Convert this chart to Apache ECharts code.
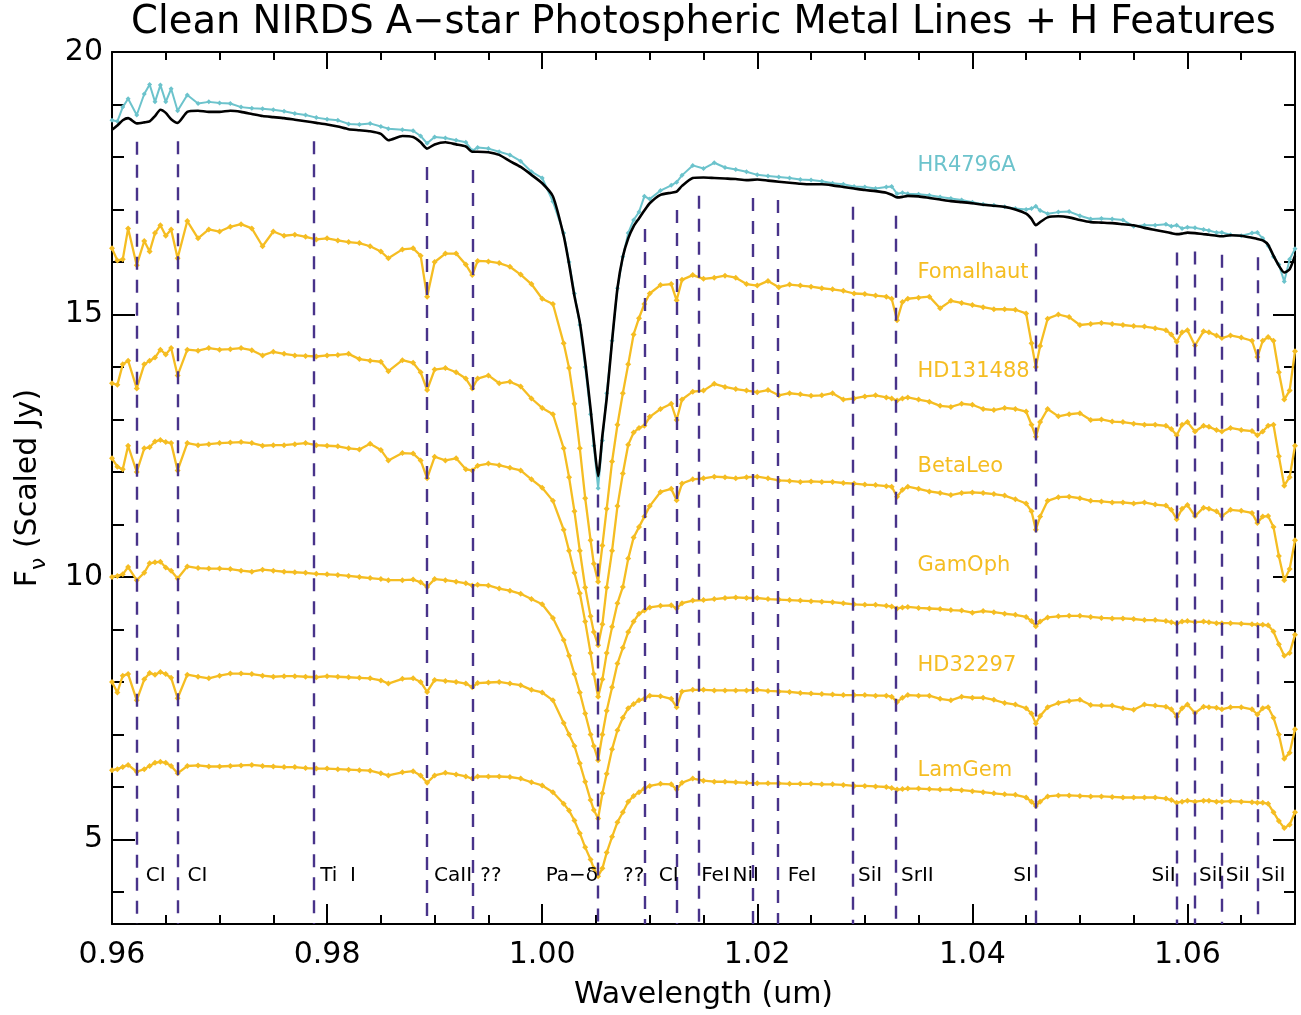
<!DOCTYPE html>
<html>
<head>
<meta charset="utf-8">
<title>Clean NIRDS A-star Photospheric Metal Lines + H Features</title>
<script src="https://cdn.jsdelivr.net/npm/echarts@6/dist/echarts.min.js"></script>
<style>
  html, body { margin: 0; padding: 0; background: #fff; }
  #chart { width: 1301px; height: 1015px; }
</style>
</head>
<body>
<div id="chart"></div>
<script>
// wavelength grid (um), finer around the lines and Pa-delta
const wave = [
  0.960, 0.9605, 0.961, 0.9615, 0.9623, 0.963, 0.9635, 0.964, 0.9645, 0.965, 0.9655, 0.9661,
  0.967, 0.968, 0.969, 0.970, 0.971, 0.972, 0.973, 0.974, 0.975, 0.976, 0.977, 0.978, 0.979, 0.980, 0.981, 0.982, 0.983, 0.984, 0.985,
  0.9857, 0.987, 0.988, 0.9887, 0.9893, 0.990, 0.991, 0.992, 0.9929, 0.9935, 0.994, 0.995, 0.996, 0.997, 0.998, 0.999,
  1.000, 1.001, 1.002, 1.0025, 1.003, 1.0035, 1.004, 1.0045, 1.0048, 1.0052, 1.0056, 1.006, 1.0065, 1.007, 1.0075, 1.008, 1.0085, 1.009, 1.0095, 1.010, 1.011,
  1.012, 1.0125, 1.013,
  1.014, 1.015, 1.016, 1.017, 1.018, 1.019, 1.020, 1.021, 1.022, 1.023, 1.024, 1.025, 1.026, 1.027, 1.028, 1.029, 1.030, 1.031, 1.032,
  1.0325, 1.033, 1.0335,
  1.034, 1.035, 1.036, 1.037, 1.038, 1.039, 1.040, 1.041, 1.042, 1.043, 1.044, 1.045,
  1.0455, 1.0459, 1.0463,
  1.047, 1.048, 1.049, 1.050, 1.051, 1.052, 1.053, 1.054, 1.055, 1.056, 1.057, 1.058,
  1.0585, 1.059, 1.0595, 1.060, 1.0607, 1.0615, 1.062, 1.0627, 1.0632, 1.064, 1.065, 1.066, 1.0665, 1.067, 1.0675, 1.068, 1.0685, 1.069, 1.0695, 1.070
];

const hr4796a = [
  18.70, 18.68, 18.95, 19.11, 18.80, 19.20, 19.38, 19.05, 19.37, 19.05, 19.30, 18.88,
  19.18, 19.02, 19.05, 19.03, 19.02, 18.95, 18.93, 18.92, 18.90, 18.87, 18.83, 18.80, 18.75, 18.72, 18.70, 18.63, 18.62, 18.64, 18.58,
  18.54, 18.52, 18.50, 18.40, 18.26, 18.38, 18.36, 18.32, 18.28, 18.12, 18.18, 18.16, 18.10, 18.04, 17.92, 17.72,
  17.60, 17.15, 16.55, 16.00, 15.40, 14.80, 14.00, 13.10, 12.50, 11.69, 12.60, 13.50, 14.50, 15.50, 16.10, 16.55, 16.80, 16.95, 17.25, 17.20, 17.36,
  17.46, 17.52, 17.65,
  17.84, 17.78, 17.89, 17.80, 17.76, 17.72, 17.66, 17.64, 17.62, 17.60, 17.57, 17.56, 17.54, 17.50, 17.48, 17.44, 17.43, 17.40, 17.43,
  17.44, 17.30, 17.32,
  17.30, 17.29, 17.27, 17.24, 17.21, 17.18, 17.14, 17.10, 17.08, 17.05, 17.02, 17.00,
  17.02, 17.06, 16.98,
  16.92, 16.95, 16.96, 16.88, 16.82, 16.83, 16.82, 16.80, 16.68, 16.70, 16.70, 16.72,
  16.68, 16.70, 16.64, 16.66, 16.65, 16.62, 16.60, 16.56, 16.56, 16.52, 16.50, 16.55, 16.56, 16.45, 16.31, 16.10, 15.95, 15.63, 16.05, 16.25
];

const model = [
  18.52, 18.60, 18.70, 18.74, 18.64, 18.66, 18.68, 18.78, 18.90, 18.84, 18.72, 18.65,
  18.86, 18.88, 18.86, 18.86, 18.88, 18.86, 18.82, 18.78, 18.76, 18.74, 18.71, 18.68, 18.65, 18.62, 18.58, 18.53, 18.51, 18.49, 18.44,
  18.32, 18.40, 18.38, 18.28, 18.16, 18.24, 18.28, 18.24, 18.20, 18.10, 18.10, 18.09, 18.04, 17.92, 17.81, 17.66,
  17.50, 17.25, 16.50, 15.96, 15.35, 14.85, 14.10, 13.20, 12.60, 11.92, 12.70, 13.40, 14.50, 15.50, 16.10, 16.45, 16.68, 16.83, 16.98, 17.12, 17.28,
  17.32, 17.34, 17.45,
  17.60, 17.61, 17.60, 17.59, 17.58, 17.56, 17.57, 17.55, 17.53, 17.51, 17.49, 17.48, 17.48, 17.46, 17.43, 17.40, 17.37, 17.35, 17.32,
  17.28, 17.23, 17.24,
  17.26, 17.25, 17.22, 17.19, 17.16, 17.14, 17.12, 17.09, 17.07, 17.05, 17.00, 16.92,
  16.82, 16.70, 16.76,
  16.85, 16.87, 16.85, 16.80, 16.76, 16.75, 16.74, 16.72, 16.70, 16.65, 16.61, 16.57,
  16.55, 16.53, 16.54, 16.56, 16.55, 16.53, 16.52, 16.50, 16.49, 16.51, 16.50, 16.46, 16.44, 16.41, 16.33, 16.12, 15.93, 15.80, 15.86, 16.12
];

const fomalhaut = [
  16.26, 16.03, 16.05, 16.64, 15.94, 16.40, 16.20, 16.55, 16.70, 16.50, 16.62, 16.07,
  16.78, 16.45, 16.62, 16.58, 16.67, 16.72, 16.64, 16.30, 16.58, 16.50, 16.52, 16.48, 16.43, 16.45, 16.41, 16.38, 16.36, 16.30, 16.20,
  16.07, 16.24, 16.26, 16.12, 15.34, 16.00, 16.16, 16.16, 15.95, 15.75, 16.02, 16.01, 15.98, 15.91, 15.76, 15.58,
  15.30, 15.20, 14.45, 13.98, 13.30, 12.45, 11.50, 10.70, 10.25, 9.91, 10.60, 11.30, 12.20, 12.90, 13.50, 14.05, 14.62, 14.93, 15.20, 15.40, 15.56,
  15.58, 15.27, 15.66,
  15.75, 15.68, 15.70, 15.74, 15.70, 15.58, 15.55, 15.64, 15.52, 15.57, 15.55, 15.53, 15.50, 15.48, 15.45, 15.40, 15.39, 15.36, 15.34,
  15.30, 14.89, 15.24,
  15.30, 15.32, 15.34, 15.12, 15.26, 15.22, 15.18, 15.14, 15.10, 15.10, 15.09, 15.02,
  14.45, 14.00, 14.40,
  14.92, 15.00, 14.95, 14.80, 14.82, 14.84, 14.82, 14.80, 14.78, 14.77, 14.74, 14.70,
  14.62, 14.48, 14.66, 14.70, 14.41, 14.68, 14.66, 14.60, 14.55, 14.60, 14.56, 14.50, 14.19, 14.50, 14.57, 14.50, 13.90, 13.38, 13.55, 14.30
];

const hd131488 = [
  13.69, 13.66, 14.05, 14.12, 13.59, 14.05, 14.12, 14.18, 14.33, 14.24, 14.36, 13.84,
  14.33, 14.31, 14.36, 14.33, 14.34, 14.36, 14.32, 14.22, 14.29, 14.25, 14.22, 14.21, 14.20, 14.22, 14.23, 14.25, 14.15, 14.12, 14.10,
  13.92, 14.13, 14.08, 13.90, 13.56, 13.95, 13.98, 13.90, 13.78, 13.59, 13.78, 13.84, 13.69, 13.72, 13.63, 13.40,
  13.22, 13.10, 12.45, 11.90, 11.25, 10.50, 9.80, 9.25, 8.95, 8.70, 9.10, 9.80, 10.50, 11.35, 11.97, 12.52, 12.75, 12.84, 12.88, 13.05, 13.20,
  13.30, 12.99, 13.38,
  13.53, 13.55, 13.68, 13.62, 13.58, 13.55, 13.52, 13.56, 13.46, 13.50, 13.48, 13.45, 13.46, 13.50, 13.38, 13.40, 13.44, 13.46, 13.42,
  13.40, 13.36, 13.40,
  13.42, 13.38, 13.34, 13.26, 13.24, 13.30, 13.28, 13.20, 13.18, 13.22, 13.20, 13.15,
  12.90, 12.67, 12.95,
  13.20, 13.06, 13.10, 13.12, 12.99, 13.00, 12.96, 12.95, 12.92, 12.90, 12.90, 12.88,
  12.82, 12.70, 12.90, 12.95, 12.77, 12.88, 12.86, 12.80, 12.77, 12.84, 12.80, 12.78, 12.70, 12.77, 12.88, 12.90, 12.30, 11.74, 11.90, 12.50
];

const betaLeo = [
  12.26, 12.10, 12.05, 12.50, 12.00, 12.45, 12.47, 12.58, 12.61, 12.57, 12.55, 12.03,
  12.55, 12.51, 12.53, 12.55, 12.56, 12.57, 12.55, 12.50, 12.51, 12.51, 12.53, 12.55, 12.51, 12.50, 12.49, 12.45, 12.43, 12.54, 12.42,
  12.22, 12.36, 12.35, 12.22, 11.88, 12.29, 12.22, 12.26, 12.05, 12.03, 12.12, 12.16, 12.13, 12.08, 12.03, 11.86,
  11.70, 11.45, 10.90, 10.50, 10.08, 9.69, 9.15, 8.55, 8.15, 7.72, 8.05, 8.55, 9.05, 9.50, 9.81, 10.35, 10.75, 10.95, 11.15, 11.35, 11.62,
  11.68, 11.46, 11.78,
  11.86, 11.88, 11.91, 11.90, 11.88, 11.90, 11.91, 11.88, 11.84, 11.83, 11.81, 11.82, 11.81, 11.81, 11.79, 11.78, 11.76, 11.75, 11.73,
  11.72, 11.53, 11.66,
  11.72, 11.68, 11.63, 11.60, 11.56, 11.60, 11.61, 11.60, 11.58, 11.55, 11.48, 11.40,
  11.25, 10.90, 11.15,
  11.45, 11.52, 11.53, 11.50, 11.45, 11.44, 11.42, 11.42, 11.40, 11.42, 11.38, 11.36,
  11.28, 11.10, 11.30, 11.37, 11.16, 11.32, 11.30, 11.25, 11.16, 11.28, 11.26, 11.22, 11.03, 11.15, 11.16, 10.95, 10.40, 9.94, 10.15, 10.70
];

const gamOph = [
  10.00, 10.02, 10.05, 10.19, 9.94, 10.08, 10.26, 10.28, 10.29, 10.18, 10.12, 9.97,
  10.20, 10.17, 10.16, 10.16, 10.15, 10.12, 10.10, 10.14, 10.12, 10.10, 10.09, 10.08, 10.06, 10.05, 10.04, 10.02, 10.00, 9.98, 9.96,
  9.94, 9.94, 9.95, 9.90, 9.81, 9.96, 9.94, 9.91, 9.88, 9.84, 9.85, 9.84, 9.78, 9.74, 9.68, 9.58,
  9.48, 9.22, 8.80, 8.50, 8.15, 7.80, 7.40, 7.00, 6.78, 6.51, 7.00, 7.45, 7.90, 8.35, 8.65, 8.95, 9.15, 9.30, 9.36, 9.42, 9.45,
  9.46, 9.40, 9.50,
  9.55, 9.56, 9.58, 9.60, 9.61, 9.60, 9.60, 9.58, 9.57, 9.56, 9.55, 9.54, 9.53, 9.52, 9.50, 9.48, 9.47, 9.47, 9.45,
  9.44, 9.40, 9.42,
  9.43, 9.41, 9.40, 9.39, 9.37, 9.36, 9.32, 9.35, 9.33, 9.30, 9.28, 9.24,
  9.16, 9.06, 9.15,
  9.23, 9.25, 9.26, 9.26, 9.24, 9.22, 9.21, 9.21, 9.20, 9.18, 9.18, 9.16,
  9.14, 9.11, 9.15, 9.16, 9.14, 9.15, 9.14, 9.12, 9.12, 9.12, 9.11, 9.10, 9.09, 9.09, 9.08, 8.96, 8.72, 8.50, 8.55, 8.90
];

const hd32297 = [
  8.00, 7.80, 8.12, 8.15, 7.65, 8.05, 8.17, 8.14, 8.19, 8.15, 8.08, 7.69,
  8.14, 8.10, 8.07, 8.12, 8.16, 8.16, 8.15, 8.12, 8.10, 8.11, 8.11, 8.10, 8.09, 8.11, 8.10, 8.09, 8.08, 8.07, 8.03,
  7.97, 8.06, 8.07, 8.00, 7.81, 8.04, 8.02, 8.00, 7.97, 7.90, 7.98, 7.99, 8.00, 7.97, 7.94, 7.85,
  7.80, 7.65, 7.22, 7.00, 6.78, 6.45, 6.10, 5.75, 5.56, 5.40, 5.88, 6.25, 6.72, 7.08, 7.32, 7.50, 7.58, 7.65, 7.68, 7.74, 7.73,
  7.68, 7.52, 7.82,
  7.85, 7.85, 7.84, 7.84, 7.84, 7.84, 7.85, 7.83, 7.82, 7.81, 7.79, 7.78, 7.77, 7.76, 7.75, 7.75, 7.75, 7.74, 7.74,
  7.72, 7.62, 7.70,
  7.75, 7.74, 7.74, 7.68, 7.65, 7.72, 7.70, 7.70, 7.66, 7.60, 7.57, 7.50,
  7.40, 7.21, 7.35,
  7.52, 7.60, 7.64, 7.66, 7.56, 7.55, 7.55, 7.50, 7.47, 7.57, 7.55, 7.53,
  7.48, 7.34, 7.50, 7.57, 7.41, 7.53, 7.52, 7.51, 7.48, 7.52, 7.52, 7.48, 7.38, 7.50, 7.52, 7.32, 7.00, 6.54, 6.65, 7.10
];

const lamGem = [
  6.32, 6.34, 6.38, 6.42, 6.29, 6.34, 6.40, 6.46, 6.48, 6.46, 6.40, 6.26,
  6.40, 6.41, 6.39, 6.39, 6.40, 6.41, 6.42, 6.40, 6.39, 6.38, 6.38, 6.36, 6.35, 6.35, 6.34, 6.33, 6.32, 6.31, 6.26,
  6.22, 6.28, 6.30, 6.22, 6.08, 6.22, 6.27, 6.24, 6.20, 6.16, 6.20, 6.20, 6.20, 6.19, 6.16, 6.09,
  6.03, 5.90, 5.68, 5.55, 5.36, 5.12, 4.85, 4.62, 4.45, 4.30, 4.45, 4.75, 5.05, 5.33, 5.52, 5.72, 5.83, 5.90, 5.97, 6.02, 6.06,
  6.05, 5.95, 6.08,
  6.16, 6.12, 6.10, 6.10, 6.09, 6.08, 6.07, 6.07, 6.07, 6.06, 6.06, 6.06, 6.05, 6.05, 6.04, 6.02, 6.02, 6.01, 6.00,
  5.98, 5.95, 5.96,
  5.97, 5.97, 5.96, 5.95, 5.95, 5.94, 5.92, 5.90, 5.88, 5.86, 5.85, 5.80,
  5.72, 5.64, 5.72,
  5.82, 5.84, 5.84, 5.83, 5.82, 5.82, 5.81, 5.80, 5.80, 5.80, 5.80, 5.78,
  5.75, 5.70, 5.72, 5.74, 5.72, 5.74, 5.74, 5.72, 5.72, 5.73, 5.72, 5.71, 5.70, 5.70, 5.68, 5.52, 5.35, 5.22, 5.28, 5.52
];

const starNames = ['HR4796A', 'Fomalhaut', 'HD131488', 'BetaLeo', 'GamOph', 'HD32297', 'LamGem'];

// identified lines (um) and their tags
const lineWaves = [0.9623, 0.9661, 0.9788, 0.9893, 0.9935, 1.0052, 1.0095, 1.0125, 1.0146, 1.0196, 1.0219, 1.0289, 1.0329, 1.0459, 1.0590, 1.0607, 1.0632, 1.0665];
const lineNames = ['CI', 'CI', 'Ti  I', 'CaII', '??', 'Pa\u2212\u03b4', '??', 'CI', 'FeI', 'NiI', 'FeI', 'SiI', 'SrII', 'SI', 'SiI', 'SiI', 'SiI', 'SiI'];

const xTicks = [0.96, 0.98, 1.00, 1.02, 1.04, 1.06];
const xMinorTicks = [0.965, 0.970, 0.975, 0.985, 0.990, 0.995, 1.005, 1.010, 1.015, 1.025, 1.030, 1.035, 1.045, 1.050, 1.055, 1.065];
const yTicks = [5, 10, 15, 20];
const yMinorTicks = [4, 6, 7, 8, 9, 11, 12, 13, 14, 16, 17, 18, 19];

// ---- layout / style ----
const FONT = 'DejaVu Sans';
const YELLOW = '#f5bd22';
const CYAN = '#6cc3cc';
const PURPLE = '#48338a';
const X_MIN = 0.96, X_MAX = 1.07, Y_MIN = 3.39, Y_MAX = 20;

// where the star names sit (data coords), and where the line tags hang
const nameX = 1.0349;
const nameY = [17.84, 15.79, 13.92, 12.11, 10.21, 8.32, 6.32];
const tagY = 4.30;
const tagAlign = ['left', 'left', 'left', 'left', 'left', 'right', 'right', 'right', 'left', 'right', 'left', 'left', 'left', 'right', 'right', 'left', 'left', 'left'];
const tagDx = [9, 10, 6, 7, 8, 0, 0, 2, 2, 6, 10, 5, 5, -4, -1, 4, 4, 4];

const chart = echarts.init(document.getElementById('chart'));

function pairs(vals) {
  return wave.map((w, i) => [w, vals[i]]);
}

function modelAt(w) {
  let best = 0;
  wave.forEach((x, i) => {
    if (Math.abs(x - w) < Math.abs(wave[best] - w)) best = i;
  });
  return model[best];
}

function xAxisPart(position, ticks, len, main) {
  return {
    type: 'value', min: X_MIN, max: X_MAX, position: position,
    axisLine: { show: main, onZero: false, lineStyle: { color: '#000', width: 2 } },
    axisTick: { show: true, inside: true, length: len, customValues: ticks, lineStyle: { color: '#000', width: 2 } },
    axisLabel: { show: false },
    splitLine: { show: false }
  };
}

function yAxisPart(position, ticks, len, main) {
  return {
    type: 'value', min: Y_MIN, max: Y_MAX, position: position,
    axisLine: { show: main, onZero: false, lineStyle: { color: '#000', width: 2 } },
    axisTick: { show: true, inside: true, length: len, customValues: ticks, lineStyle: { color: '#000', width: 2 } },
    axisLabel: { show: false },
    splitLine: { show: false }
  };
}

const xBottom = xAxisPart('bottom', xTicks, 20, true);
xBottom.axisLabel = {
  show: true, customValues: xTicks, margin: 16, color: '#000',
  fontFamily: FONT, fontSize: 30, formatter: v => v.toFixed(2)
};
xBottom.name = 'Wavelength (um)';
xBottom.nameLocation = 'middle';
xBottom.nameGap = 56;
xBottom.nameTextStyle = { fontFamily: FONT, fontSize: 30, color: '#000' };

const yLeft = yAxisPart('left', yTicks, 23, true);
yLeft.axisLabel = {
  show: true, customValues: yTicks, margin: 9, color: '#000',
  fontFamily: FONT, fontSize: 30
};
yLeft.name = '{f|F}{s|\u03bd}{f| (Scaled Jy)}';
yLeft.nameLocation = 'middle';
yLeft.nameGap = 62;
yLeft.nameTextStyle = {
  fontFamily: FONT, fontSize: 30, color: '#000',
  rich: {
    f: { fontFamily: FONT, fontSize: 30, color: '#000', verticalAlign: 'bottom', padding: [0, 0, 7, 0] },
    s: { fontFamily: FONT, fontSize: 22, color: '#000', verticalAlign: 'bottom' }
  }
};

function star(name, vals, color, size, width, z) {
  return {
    name: name, type: 'line', data: pairs(vals),
    xAxisIndex: 0, yAxisIndex: 0,
    symbol: 'diamond', symbolSize: size, showAllSymbol: true,
    itemStyle: { color: color },
    lineStyle: { color: color, width: width },
    z: z
  };
}

const option = {
  animation: false,
  backgroundColor: '#fff',
  grid: { left: 112, right: 6, top: 52, bottom: 91, outerBoundsMode: 'none' },
  xAxis: [
    xBottom,
    xAxisPart('bottom', xMinorTicks, 9, false),
    xAxisPart('top', xTicks, 17, true),
    xAxisPart('top', xMinorTicks, 8, false)
  ],
  yAxis: [
    yLeft,
    yAxisPart('left', yMinorTicks, 12, false),
    yAxisPart('right', yTicks, 22, true),
    yAxisPart('right', yMinorTicks, 11, false)
  ],
  series: [
    star('HR4796A', hr4796a, CYAN, 5, 2, 2),
    {
      name: 'model', type: 'line', data: pairs(model),
      xAxisIndex: 0, yAxisIndex: 0, symbol: 'none', smooth: 0.2,
      lineStyle: { color: '#000', width: 2.6 },
      z: 3,
      markLine: {
        silent: true, symbol: ['none', 'none'],
        label: { show: false },
        lineStyle: { color: PURPLE, width: 2.4, type: [13, 10] },
        data: lineWaves.map(w => [{ coord: [w, modelAt(w) - 0.35] }, { coord: [w, Y_MIN] }]),
        z: 10
      }
    },
    star('Fomalhaut', fomalhaut, YELLOW, 6, 2.3, 4),
    star('HD131488', hd131488, YELLOW, 6, 2.3, 4),
    star('BetaLeo', betaLeo, YELLOW, 6, 2.3, 4),
    star('GamOph', gamOph, YELLOW, 6, 2.3, 4),
    star('HD32297', hd32297, YELLOW, 6, 2.3, 4),
    star('LamGem', lamGem, YELLOW, 6, 2.3, 4)
  ]
};

chart.setOption(option);

// text placed in data coordinates through the chart's own scales
const texts = [];
texts.push({
  type: 'text', x: 703.5, y: 23, z: 20,
  style: {
    text: 'Clean NIRDS A\u2212star Photospheric Metal Lines + H Features',
    fill: '#000', fontFamily: FONT, fontSize: 38.5,
    align: 'center', verticalAlign: 'middle', textAlign: 'center', textVerticalAlign: 'middle'
  }
});
starNames.forEach((n, i) => {
  const p = chart.convertToPixel({ gridIndex: 0 }, [nameX, nameY[i]]);
  texts.push({
    type: 'text', x: p[0], y: p[1], z: 20,
    style: {
      text: n, fill: i === 0 ? CYAN : YELLOW, fontFamily: FONT, fontSize: 21,
      align: 'left', verticalAlign: 'middle', textAlign: 'left', textVerticalAlign: 'middle'
    }
  });
});
lineNames.forEach((n, i) => {
  const p = chart.convertToPixel({ gridIndex: 0 }, [lineWaves[i], tagY]);
  texts.push({
    type: 'text', x: p[0] + tagDx[i], y: p[1], z: 20,
    style: {
      text: n, fill: '#000', fontFamily: FONT, fontSize: 20,
      align: tagAlign[i], verticalAlign: 'middle', textAlign: tagAlign[i], textVerticalAlign: 'middle'
    }
  });
});
chart.setOption({ graphic: texts });
</script>
</body>
</html>
